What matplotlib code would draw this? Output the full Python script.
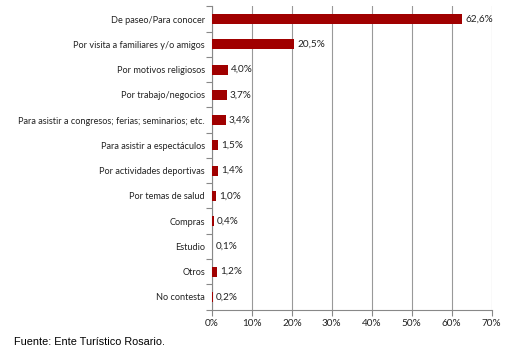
import matplotlib.pyplot as plt
import numpy as np

categorias = ['De paseo/Para conocer', 'Por visita a familiares y/o amigos',
              'Por motivos religiosos', 'Por trabajo/negocios',
              'Para asistir a congresos; ferias; seminarios; etc.',
              'Para asistir a espectáculos', 'Por actividades deportivas',
              'Por temas de salud', 'Compras', 'Estudio', 'Otros', 'No contesta']
valores = [62.6, 20.5, 4.0, 3.7, 3.4, 1.5, 1.4, 1.0, 0.4, 0.1, 1.2, 0.2]
ticks_x = [0, 10, 20, 30, 40, 50, 60, 70]

plt.rcParams['font.family'] = ['Lato', 'DejaVu Sans']

fig = plt.figure(figsize=(5.21, 3.54), dpi=100)
ax = fig.add_axes([212 / 521, 1 - 309.5 / 354, (491.5 - 212) / 521, (309.5 - 6.5) / 354])

y = np.arange(len(categorias))
ax.barh(y, valores, height=0.4, color='#a00000', zorder=3)
for yi, v in zip(y, valores):
    ax.text(v + 0.8, yi, f'{v:.1f}%'.replace('.', ','), va='center', ha='left',
            fontsize=7.2, color='#222222')

ax.set_ylim(len(categorias) - 0.5, -0.5)
ax.set_xlim(0, 70)
ax.set_xticks(ticks_x)
ax.set_xticklabels([f'{t}%' for t in ticks_x], fontsize=7.2, color='#222222')
ax.set_yticks(np.arange(len(categorias) + 1) - 0.5, minor=False)
ax.set_yticklabels([])
ax.set_yticks(y, minor=True)
ax.set_yticklabels(categorias, minor=True, fontsize=6.6, color='#222222')
ax.tick_params(axis='y', which='minor', length=0, pad=5)
ax.tick_params(axis='y', which='major', length=4, color='#888888')
ax.tick_params(axis='x', length=4, color='#888888', pad=3)

ax.grid(axis='x', color='#999999', linewidth=0.8, zorder=0)
for s in ['top', 'right']:
    ax.spines[s].set_visible(False)
ax.spines['left'].set_color('#888888')
ax.spines['bottom'].set_color('#888888')

fig.text(14 / 521, 1 - 342 / 354, 'Fuente: Ente Turístico Rosario.', fontsize=7.8,
         family='Liberation Sans', va='center', ha='left')

fig.savefig('out.png', dpi=100)
